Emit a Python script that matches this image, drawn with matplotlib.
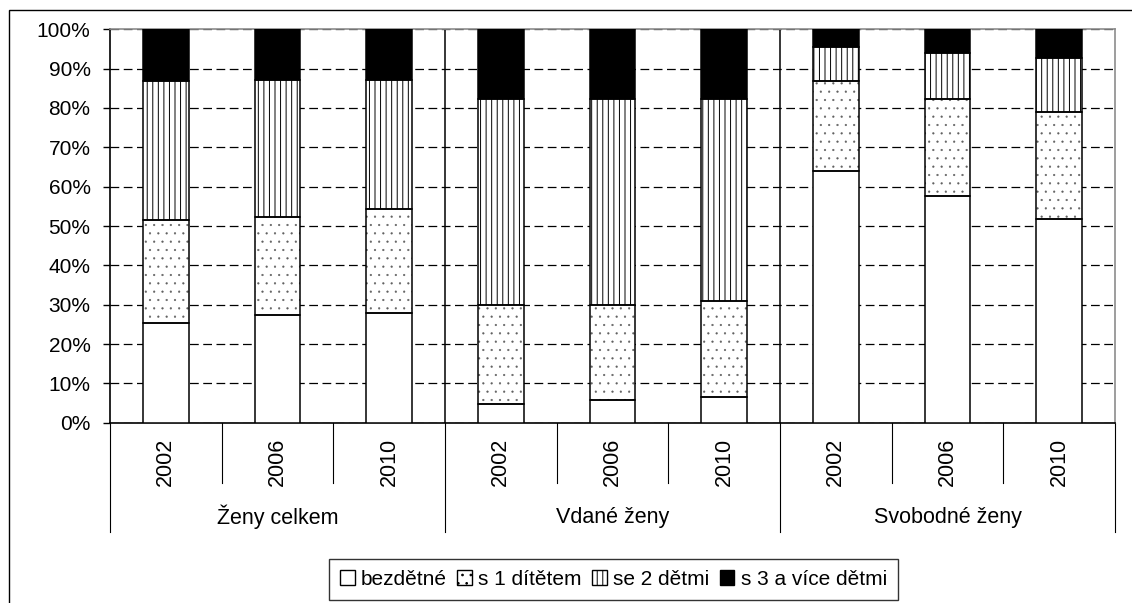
import matplotlib.pyplot as plt
import matplotlib.patches as mpatches
import numpy as np

plt.rcParams['font.family'] = ['Liberation Sans', 'DejaVu Sans']
plt.rcParams['hatch.linewidth'] = 0.7

# data (shares in %)
groups = ["Ženy celkem", "Vdané ženy", "Svobodné ženy"]
years = ["2002", "2006", "2010"]
bezdetne = [25.4, 27.5, 27.9, 4.7, 5.7, 6.5, 64.0, 57.6, 51.9]
s1 = [26.0, 24.8, 26.5, 25.3, 24.3, 24.4, 22.9, 24.8, 27.0]
s2 = [35.4, 34.7, 32.6, 52.3, 52.3, 51.4, 8.7, 11.6, 13.8]
s3 = [13.2, 13.0, 13.0, 17.7, 17.7, 17.7, 4.4, 6.0, 7.3]
series_names = ["bezdětné", "s 1 dítětem", "se 2 dětmi", "s 3 a více dětmi"]

fig = plt.figure(figsize=(11.32, 6.03), dpi=100)
ax = fig.add_axes([110 / 1132, (603 - 422.7) / 603, 1005 / 1132, 393.4 / 603])

x = np.arange(len(bezdetne))
width = 0.41
styles = [
    dict(facecolor="white", hatch=None, hc="black", hlw=0.7),
    dict(facecolor="white", hatch="..", hc="#606060", hlw=0.35),
    dict(facecolor="white", hatch="|||", hc="black", hlw=0.7),
    dict(facecolor="black", hatch=None, hc="black", hlw=0.7),
]
bottom = np.zeros(len(x))
handles = []
for vals, st, name in zip([bezdetne, s1, s2, s3], styles, series_names):
    vals = np.array(vals)
    with plt.rc_context({"hatch.linewidth": st["hlw"]}):
        # fill + hatch layer, then a black outline on top
        ax.bar(x, vals, width, bottom=bottom, facecolor=st["facecolor"],
               hatch=st["hatch"], edgecolor=st["hc"], linewidth=0, zorder=3)
        ax.bar(x, vals, width, bottom=bottom, fill=False, edgecolor="black",
               linewidth=1.1, zorder=4)
        h = mpatches.Patch(facecolor=st["facecolor"], hatch=st["hatch"],
                           edgecolor="black", linewidth=1.0, label=name)
    handles.append(h)
    bottom = bottom + vals

ax.set_xlim(-0.5, len(x) - 0.5)
ax.set_ylim(0, 100)
ax.set_yticks(np.arange(0, 101, 10))
ax.set_yticklabels([f"{v}%" for v in range(0, 101, 10)], fontsize=15)
ax.tick_params(axis="y", direction="out", length=5, width=1, pad=9)
ax.set_xticks([])

ax.set_axisbelow(True)
ax.yaxis.grid(True, color="black", linewidth=0.9, linestyle=(0, (7, 3.6)))
for s in ["top", "right"]:
    ax.spines[s].set_color("#8c8c8c")
    ax.spines[s].set_linewidth(1.2)
for s in ["left", "bottom"]:
    ax.spines[s].set_color("black")
    ax.spines[s].set_linewidth(1.2)

# group separators inside the plot
for b in [2.5, 5.5]:
    ax.axvline(b, color="black", linewidth=1.1, zorder=2)

# category axis table below the plot
tr = ax.get_xaxis_transform()
for b in np.arange(-0.5, len(x), 1.0):
    is_group = abs((b + 0.5) % 3) < 1e-9
    yend = -0.278 if is_group else -0.153
    ax.plot([b, b], [0, yend], color="black", linewidth=0.8, transform=tr, clip_on=False)

for i in x:
    ax.text(i, -0.10, years[i % 3], rotation=90, ha="center", va="center",
            fontsize=15.5, transform=tr)
for g, name in enumerate(groups):
    ax.text(g * 3 + 1, -0.24, name, ha="center", va="center", fontsize=15.5, transform=tr)

leg = fig.legend(handles=handles, loc="center", bbox_to_anchor=(613.5 / 1132, 1 - 579.5 / 603),
                 ncol=4, fontsize=15, frameon=True, fancybox=False, handlelength=0.7,
                 handleheight=0.7, handletextpad=0.3, columnspacing=0.5, borderpad=0.55)
leg.get_frame().set_edgecolor("black")
leg.get_frame().set_linewidth(1.0)

# outer chart border (only top and left are inside the image)
fig.patches.append(mpatches.Rectangle((9 / 1132, -0.05), 1.1, (603 - 10) / 603 + 0.05,
                                      transform=fig.transFigure, fill=False,
                                      edgecolor="black", linewidth=1.0))

fig.savefig("out.png", dpi=100)
